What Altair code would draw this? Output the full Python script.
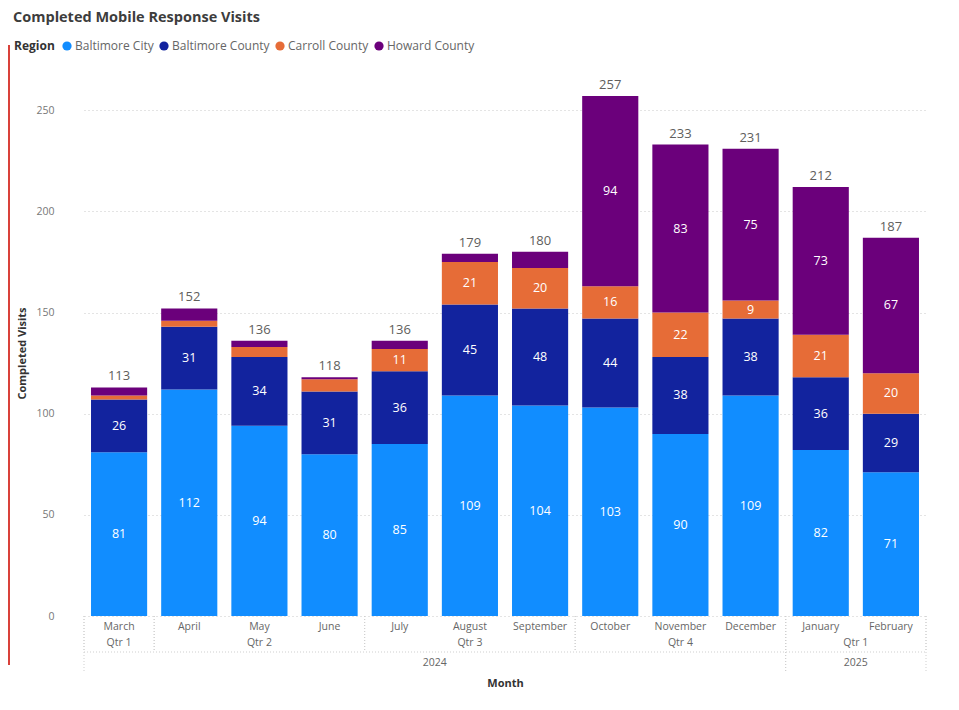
import altair as alt
import pandas as pd

months = ["March", "April", "May", "June", "July", "August", "September",
          "October", "November", "December", "January", "February"]
quarters = ["Qtr 1", "Qtr 2", "Qtr 2", "Qtr 2", "Qtr 3", "Qtr 3", "Qtr 3",
            "Qtr 4", "Qtr 4", "Qtr 4", "Qtr 1", "Qtr 1"]
years = ["2024"] * 10 + ["2025"] * 2
regions = ["Baltimore City", "Baltimore County", "Carroll County", "Howard County"]
colors = ["#118DFF", "#12239E", "#E66C37", "#6B007B"]
baltimore_city = [81, 112, 94, 80, 85, 109, 104, 103, 90, 109, 82, 71]
baltimore_county = [26, 31, 34, 31, 36, 45, 48, 44, 38, 38, 36, 29]
carroll_county = [2, 3, 5, 6, 11, 21, 20, 16, 22, 9, 21, 20]
howard_county = [4, 6, 3, 1, 4, 4, 8, 94, 83, 75, 73, 67]

series = [baltimore_city, baltimore_county, carroll_county, howard_county]
rows = []
for r_i, (reg, vals) in enumerate(zip(regions, series)):
    for m_i, (m, v) in enumerate(zip(months, vals)):
        rows.append({"month": m, "idx": m_i, "region": reg, "order": r_i, "value": v})
df = pd.DataFrame(rows)
mdf = pd.DataFrame({"month": months, "idx": list(range(len(months))),
                    "qtr": quarters, "year": years})

W, H = 842, 526
FONT = "Open Sans"
GRAY = "#666666"
DARK = "#333333"
SEP = "#cfcfcf"

band = alt.Scale(paddingInner=0.2, paddingOuter=0.1)
yscale = alt.Scale(domain=[0, 260], nice=False)
qscale = alt.Scale(domain=[-0.5, 11.5], nice=False, zero=False)

yaxis = alt.Axis(values=[0, 50, 100, 150, 200, 250], title="Completed Visits",
                 titleFontSize=11, titleFontWeight="bold", titleColor=DARK,
                 labelColor="#777777", labelFontSize=10.5, labelPadding=30,
                 domain=False, ticks=False, gridDash=[1, 3], gridColor="#c8c8c8",
                 titlePadding=8)

x_main = alt.X("month:N", sort=months, scale=band,
               axis=alt.Axis(labelAngle=0, domain=False, ticks=False, grid=False,
                             labelColor=GRAY, labelFontSize=10.5, labelPadding=5,
                             title="Month", titleFontSize=11, titleFontWeight="bold",
                             titleColor=DARK, titlePadding=46))
x_plain = alt.X("month:N", sort=months, scale=band, axis=None)

base = alt.Chart(df)

bars = base.mark_bar().encode(
    x=x_main,
    y=alt.Y("value:Q", stack="zero", scale=yscale, axis=yaxis),
    color=alt.Color("region:N", scale=alt.Scale(domain=regions, range=colors),
                    legend=alt.Legend(orient="none", legendX=-70, legendY=-50,
                                      direction="horizontal", title="Region",
                                      titleOrient="left", symbolType="circle",
                                      symbolSize=85, labelFontSize=12, titleFontSize=12,
                                      titleFontWeight="bold", labelColor=GRAY,
                                      titleColor=DARK, columnPadding=4, labelOffset=2,
                                      titlePadding=6)),
    order=alt.Order("order:Q"),
)

seg_labels = base.transform_stack(
    stack="value", groupby=["month"], as_=["y0", "y1"],
    sort=[alt.SortField("order", "ascending")],
).transform_calculate(
    mid="(datum.y0 + datum.y1) / 2"
).transform_filter(
    "datum.value >= 9"
).mark_text(color="white", fontSize=12.5, baseline="middle").encode(
    x=x_plain,
    y=alt.Y("mid:Q", scale=yscale, axis=yaxis),
    text="value:Q",
)

totals = base.transform_aggregate(
    total="sum(value)", groupby=["month"]
).mark_text(baseline="bottom", dy=-4, color="#605E5C", fontSize=13).encode(
    x=x_plain,
    y=alt.Y("total:Q", scale=yscale, axis=yaxis),
    text="total:Q",
)

mbase = alt.Chart(mdf)

qtr_labels = mbase.transform_aggregate(
    center="mean(idx)", groupby=["year", "qtr"]
).mark_text(baseline="middle", color=GRAY, fontSize=10.5).encode(
    x=alt.X("center:Q", scale=qscale, axis=None),
    y=alt.value(H + 27),
    text="qtr:N",
)

year_labels = mbase.transform_aggregate(
    center="mean(idx)", groupby=["year"]
).mark_text(baseline="middle", color=GRAY, fontSize=10.5).encode(
    x=alt.X("center:Q", scale=qscale, axis=None),
    y=alt.value(H + 47),
    text="year:N",
)

qtr_bounds = mbase.transform_aggregate(
    lo="min(idx)", hi="max(idx)", groupby=["year", "qtr"]
).transform_fold(["lo", "hi"]).transform_calculate(
    b="datum.key == 'lo' ? datum.value - 0.5 : datum.value + 0.5"
).mark_rule(color=SEP, strokeDash=[1, 2]).encode(
    x=alt.X("b:Q", scale=qscale, axis=None),
    y=alt.value(H),
    y2=alt.value(H + 36),
)

year_bounds = mbase.transform_aggregate(
    lo="min(idx)", hi="max(idx)", groupby=["year"]
).transform_fold(["lo", "hi"]).transform_calculate(
    b="datum.key == 'lo' ? datum.value - 0.5 : datum.value + 0.5"
).mark_rule(color=SEP, strokeDash=[1, 2]).encode(
    x=alt.X("b:Q", scale=qscale, axis=None),
    y=alt.value(H),
    y2=alt.value(H + 56),
)

hline = alt.Chart(pd.DataFrame({"k": [0]})).mark_rule(color=SEP, strokeDash=[1, 2]).encode(
    x=alt.value(0), x2=alt.value(W), y=alt.value(H + 36)
)

red_edge = alt.Chart(pd.DataFrame({"k": [0]})).mark_rule(color="#D9413A", strokeWidth=2).encode(
    x=alt.value(-75), y=alt.value(-45), y2=alt.value(575)
)

chart = alt.layer(
    bars, seg_labels, totals, qtr_labels, year_labels, qtr_bounds, year_bounds, hline, red_edge
).resolve_scale(x="independent").properties(
    width=W, height=H,
    autosize=alt.AutoSizeParams(type="none"),
    padding={"left": 76, "top": 82, "right": 20, "bottom": 84},
    title=alt.Title("Completed Mobile Response Visits", anchor="start", fontSize=14.5,
                    fontWeight="bold", color="#3d3d3d", dx=5, offset=15),
).configure(font=FONT).configure_view(stroke=None)

chart.save("out.html", embed_options={"renderer": "svg", "actions": False})
